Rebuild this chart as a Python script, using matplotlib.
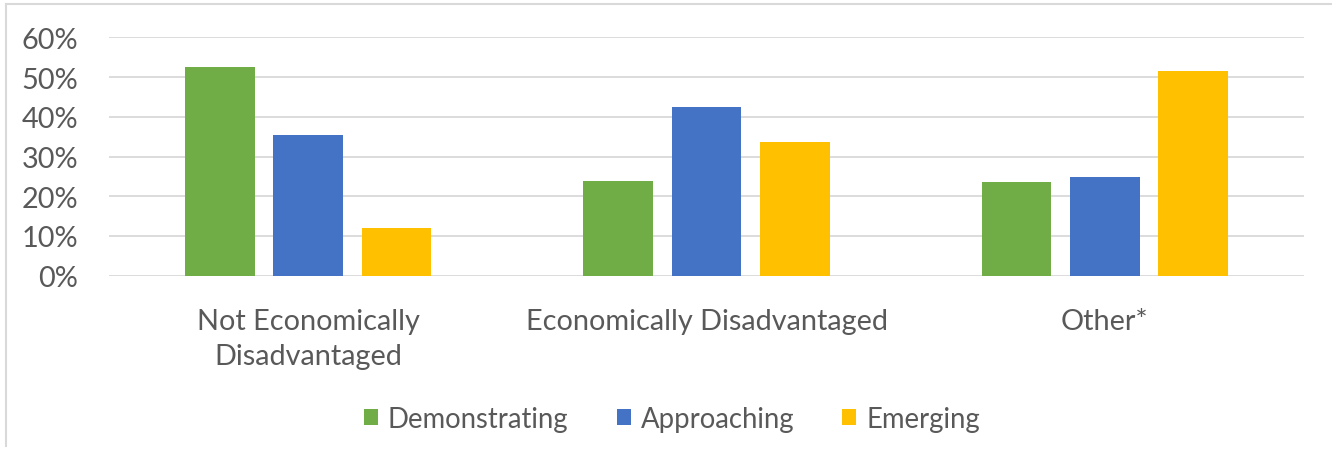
import matplotlib
matplotlib.use("Agg")
import matplotlib.pyplot as plt
from matplotlib.patches import Patch
from matplotlib.lines import Line2D
from matplotlib.ticker import PercentFormatter
import numpy as np

categories = ["Not Economically\nDisadvantaged", "Economically Disadvantaged", "Other*"]
series_names = ["Demonstrating", "Approaching", "Emerging"]
demonstrating = [52.4, 23.8, 23.5]
approaching = [35.4, 42.4, 24.8]
emerging = [11.9, 33.6, 51.4]
y_ticks = [0, 10, 20, 30, 40, 50, 60]

colors = ["#70AD47", "#4472C4", "#FFC000"]
text_color = "#595959"
grid_color = "#D9D9D9"

plt.rcParams["font.family"] = ["Lato", "DejaVu Sans"]

W, H = 1332, 456
fig = plt.figure(figsize=(W / 100, H / 100), dpi=100)

# chart area frame (top and left edges visible)
fig.add_artist(Line2D([6 / W, 1.0], [1 - 5 / H, 1 - 5 / H], color=grid_color, lw=1.5))
fig.add_artist(Line2D([6 / W, 6 / W], [1 - 5 / H, 1 - 447 / H], color=grid_color, lw=1.5))

ax = fig.add_axes([109 / W, 179.3 / H, (1304 - 109) / W, (417.7 - 179.3) / H])

x = np.arange(len(categories))
step = 0.222
width = 0.175
for i, (vals, name) in enumerate(zip([demonstrating, approaching, emerging], series_names)):
    ax.bar(x + (i - 1) * step, vals, width=width, color=colors[i], label=name, zorder=3)

ax.set_xlim(-0.5, len(categories) - 0.5)
ax.set_ylim(0, 60)
ax.set_yticks(y_ticks)
ax.yaxis.set_major_formatter(PercentFormatter(decimals=0))
ax.grid(axis="y", color=grid_color, lw=1.3, zorder=0)
ax.set_axisbelow(True)
for s in ax.spines.values():
    s.set_visible(False)
ax.tick_params(axis="y", length=0, pad=22, labelsize=20.8, labelcolor=text_color)
ax.set_xticks(x)
ax.set_xticklabels(categories, linespacing=1.43)
ax.tick_params(axis="x", length=0, pad=23, labelsize=20.8, labelcolor=text_color)

handles = [Patch(facecolor=c, edgecolor="none", label=n) for c, n in zip(colors, series_names)]
fig.legend(handles=handles, loc="center", bbox_to_anchor=(672 / W, 36 / H), ncol=3,
           frameon=False, fontsize=19.8, labelcolor=text_color,
           handlelength=0.5, handleheight=0.5, handletextpad=0.36, columnspacing=1.76)

fig.savefig("out.png", dpi=100, facecolor="white")
